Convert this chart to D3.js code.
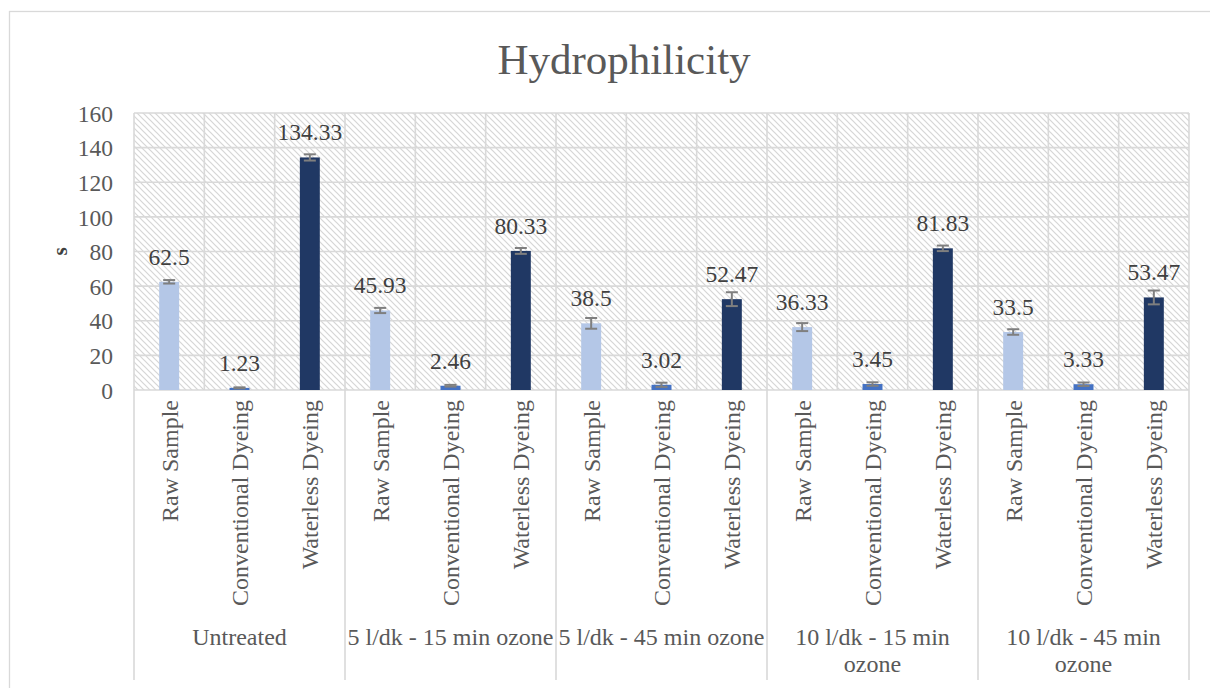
<!DOCTYPE html>
<html><head><meta charset="utf-8">
<script src="https://cdn.jsdelivr.net/npm/d3@7"></script>
<style>html,body{margin:0;padding:0;background:#fff;}svg text{font-family:"Liberation Serif","Times New Roman",Times,serif !important;}</style>
</head><body>
<svg id="chart" width="1210" height="688"></svg>
<script>
const groups = ["Untreated", "5 l/dk - 15 min ozone", "5 l/dk - 45 min ozone", "10 l/dk - 15 min ozone", "10 l/dk - 45 min ozone"];
const series = ["Raw Sample", "Conventional Dyeing", "Waterless Dyeing"];
const rawValues = [62.5, 45.93, 38.5, 36.33, 33.5];
const convValues = [1.23, 2.46, 3.02, 3.45, 3.33];
const waterValues = [134.33, 80.33, 52.47, 81.83, 53.47];
const rawErr = [1, 1.5, 3.1, 2.3, 1.6];
const convErr = [0.3, 0.5, 1.2, 1.0, 1.0];
const waterErr = [1.8, 1.7, 4.0, 1.6, 4.0];
const yTicks = [0, 20, 40, 60, 80, 100, 120, 140, 160];
const colors = ["#B4C7E7", "#4472C4", "#203864"];

const FONT = "'Liberation Serif', 'Times New Roman', Times, serif";
const svg = d3.select("#chart").attr("font-family", FONT);
const L = 134, R = 1189, T = 113, B = 390;
const data = [];
groups.forEach((g, gi) => {
  [rawValues, convValues, waterValues].forEach((arr, si) => {
    const errs = [rawErr, convErr, waterErr][si];
    data.push({key: gi + "-" + si, group: g, gi, si, series: series[si], value: arr[gi], err: errs[gi]});
  });
});

const x = d3.scaleBand().domain(data.map(d => d.key)).range([L, R]).paddingInner(0.716).paddingOuter(0.358);
const y = d3.scaleLinear().domain([0, 160]).range([B, T]);
const step = x.step();

// outer border
svg.append("rect").attr("x", 9.5).attr("y", 11.5).attr("width", 1220).attr("height", 700)
  .attr("fill", "none").attr("stroke", "#d9d9d9").attr("stroke-width", 1.3);

// hatch pattern
const defs = svg.append("defs");
const pat = defs.append("pattern").attr("id", "hatch").attr("patternUnits", "userSpaceOnUse")
  .attr("width", 6).attr("height", 6);
pat.append("rect").attr("width", 6).attr("height", 6).attr("fill", "#ffffff");
pat.append("path").attr("d", "M-1,-1 L7,7 M-1,5 L1,7 M5,-1 L7,1")
  .attr("stroke", "#d6d6d6").attr("stroke-width", 1.2);
svg.append("rect").attr("x", L).attr("y", T).attr("width", R - L).attr("height", B - T).attr("fill", "url(#hatch)");

// horizontal gridlines
svg.append("g").selectAll("line").data(yTicks).join("line")
  .attr("x1", L).attr("x2", R).attr("y1", d => y(d)).attr("y2", d => y(d))
  .attr("stroke", "#d9d9d9").attr("stroke-width", 1.6);

// vertical gridlines at category boundaries
const bounds = d3.range(data.length + 1).map(i => L + i * step);
svg.append("g").selectAll("line").data(bounds).join("line")
  .attr("x1", d => d).attr("x2", d => d).attr("y1", T).attr("y2", B)
  .attr("stroke", "#d9d9d9").attr("stroke-width", 1.6);

// group separators below axis
const gBounds = d3.range(groups.length + 1).map(i => L + i * 3 * step);
svg.append("g").selectAll("line").data(gBounds).join("line")
  .attr("x1", d => d).attr("x2", d => d).attr("y1", B).attr("y2", 680)
  .attr("stroke", "#d9d9d9").attr("stroke-width", 1.6);

// y axis
const yAxis = d3.axisLeft(y).tickValues(yTicks).tickSize(0).tickPadding(0);
const ya = svg.append("g").attr("transform", `translate(${113},0)`).call(yAxis);
ya.attr("font-family", FONT);
ya.select(".domain").remove();
ya.selectAll("text").attr("font-family", FONT).attr("font-size", 23.5)
  .attr("fill", "#595959").attr("dy", "0.35em");

// bars
svg.append("g").selectAll("rect").data(data).join("rect")
  .attr("x", d => x(d.key)).attr("width", x.bandwidth())
  .attr("y", d => y(d.value)).attr("height", d => y(0) - y(d.value))
  .attr("fill", d => colors[d.si]);

// error bars
const eg = svg.append("g").attr("stroke", "#7F7F7F").attr("stroke-width", 2);
data.forEach(d => {
  const cx = x(d.key) + x.bandwidth() / 2;
  const y1 = y(d.value + d.err), y2 = y(Math.max(0, d.value - d.err));
  eg.append("line").attr("x1", cx).attr("x2", cx).attr("y1", y1).attr("y2", y2);
  eg.append("line").attr("x1", cx - 6).attr("x2", cx + 6).attr("y1", y1).attr("y2", y1);
  eg.append("line").attr("x1", cx - 6).attr("x2", cx + 6).attr("y1", y2).attr("y2", y2);
});

// data labels
svg.append("g").selectAll("text").data(data).join("text")
  .attr("x", d => x(d.key) + x.bandwidth() / 2).attr("y", d => y(d.value) - 17)
  .attr("text-anchor", "middle").attr("font-size", 23.5).attr("fill", "#404040")
  .attr("font-family", FONT)
  .text(d => d.value);

// category labels
svg.append("g").selectAll("text").data(data).join("text")
  .attr("transform", d => `translate(${x(d.key) + x.bandwidth() / 2},${400}) rotate(-90)`)
  .attr("text-anchor", "end").attr("dy", "0.35em").attr("font-size", 24).attr("fill", "#595959")
  .attr("font-family", FONT)
  .text(d => d.series);

// group labels with wrapping
const gl = svg.append("g");
groups.forEach((g, gi) => {
  const cx = L + (gi * 3 + 1.5) * step;
  const t = gl.append("text").attr("text-anchor", "middle").attr("font-size", 24).attr("fill", "#595959")
    .attr("font-family", FONT);
  const words = g.split(" ");
  let lines = [], cur = [];
  const maxW = 3 * step - 2;
  words.forEach(w => {
    const test = cur.concat([w]).join(" ");
    t.text(test);
    if (t.node().getComputedTextLength() > maxW && cur.length) { lines.push(cur.join(" ")); cur = [w]; }
    else cur.push(w);
  });
  lines.push(cur.join(" "));
  t.text(null);
  lines.forEach((ln, i) => {
    t.append("tspan").attr("x", cx).attr("y", 645 + i * 27).text(ln);
  });
});

// y axis title
svg.append("text").attr("transform", `translate(${60},${(T + B) / 2}) rotate(-90)`)
  .attr("text-anchor", "middle").attr("dy", "0.35em").attr("font-size", 21).attr("font-weight", "bold")
  .attr("font-family", FONT)
  .attr("fill", "#404040").text("s");

// title
svg.append("text").attr("x", 624).attr("y", 74).attr("text-anchor", "middle")
  .attr("font-family", FONT)
  .attr("font-size", 43).attr("fill", "#595959").text("Hydrophilicity");
</script>
</body></html>
